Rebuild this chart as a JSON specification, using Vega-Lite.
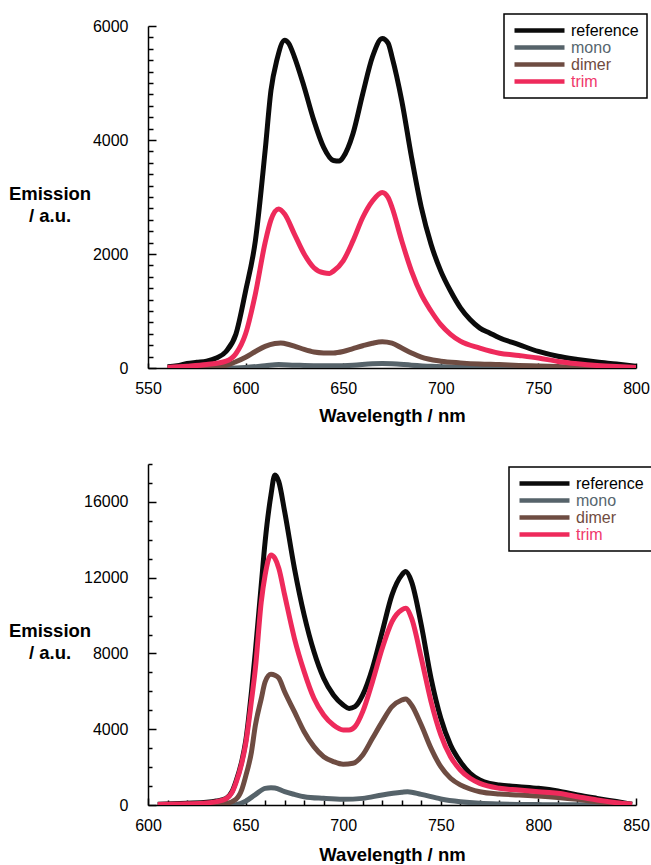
{
  "$schema": "https://vega.github.io/schema/vega-lite/v6.json",
  "background": "white",
  "padding": {"left": 8, "top": 13, "right": 0, "bottom": 0},
  "datasets": {
    "top": [
      {"s":"reference","nm":560,"v":20},{"s":"reference","nm":565,"v":40},{"s":"reference","nm":570,"v":80},{"s":"reference","nm":575,"v":100},{"s":"reference","nm":580,"v":120},{"s":"reference","nm":585,"v":175},{"s":"reference","nm":590,"v":290},{"s":"reference","nm":595,"v":590},{"s":"reference","nm":600,"v":1350},{"s":"reference","nm":605,"v":2230},{"s":"reference","nm":610,"v":3810},{"s":"reference","nm":613,"v":4870},{"s":"reference","nm":616,"v":5400},{"s":"reference","nm":620,"v":5750},{"s":"reference","nm":622,"v":5700},{"s":"reference","nm":625,"v":5460},{"s":"reference","nm":630,"v":4930},{"s":"reference","nm":635,"v":4340},{"s":"reference","nm":640,"v":3870},{"s":"reference","nm":645,"v":3640},{"s":"reference","nm":648,"v":3630},{"s":"reference","nm":650,"v":3700},{"s":"reference","nm":655,"v":4110},{"s":"reference","nm":660,"v":4810},{"s":"reference","nm":665,"v":5460},{"s":"reference","nm":670,"v":5780},{"s":"reference","nm":673,"v":5700},{"s":"reference","nm":675,"v":5460},{"s":"reference","nm":680,"v":4690},{"s":"reference","nm":685,"v":3700},{"s":"reference","nm":690,"v":2820},{"s":"reference","nm":695,"v":2170},{"s":"reference","nm":700,"v":1700},{"s":"reference","nm":705,"v":1350},{"s":"reference","nm":710,"v":1060},{"s":"reference","nm":715,"v":850},{"s":"reference","nm":720,"v":700},{"s":"reference","nm":725,"v":615},{"s":"reference","nm":730,"v":530},{"s":"reference","nm":740,"v":410},{"s":"reference","nm":750,"v":290},{"s":"reference","nm":760,"v":205},{"s":"reference","nm":770,"v":150},{"s":"reference","nm":780,"v":105},{"s":"reference","nm":790,"v":70},{"s":"reference","nm":800,"v":30},
      {"s":"mono","nm":560,"v":0},{"s":"mono","nm":590,"v":0},{"s":"mono","nm":600,"v":10},{"s":"mono","nm":610,"v":40},{"s":"mono","nm":617,"v":60},{"s":"mono","nm":625,"v":50},{"s":"mono","nm":635,"v":40},{"s":"mono","nm":645,"v":40},{"s":"mono","nm":655,"v":50},{"s":"mono","nm":665,"v":75},{"s":"mono","nm":670,"v":80},{"s":"mono","nm":675,"v":75},{"s":"mono","nm":685,"v":50},{"s":"mono","nm":695,"v":30},{"s":"mono","nm":710,"v":15},{"s":"mono","nm":730,"v":8},{"s":"mono","nm":760,"v":3},{"s":"mono","nm":790,"v":0},
      {"s":"dimer","nm":560,"v":0},{"s":"dimer","nm":580,"v":5},{"s":"dimer","nm":585,"v":15},{"s":"dimer","nm":590,"v":45},{"s":"dimer","nm":595,"v":110},{"s":"dimer","nm":600,"v":190},{"s":"dimer","nm":605,"v":290},{"s":"dimer","nm":610,"v":380},{"s":"dimer","nm":615,"v":430},{"s":"dimer","nm":618,"v":440},{"s":"dimer","nm":620,"v":430},{"s":"dimer","nm":625,"v":385},{"s":"dimer","nm":630,"v":325},{"s":"dimer","nm":635,"v":280},{"s":"dimer","nm":640,"v":265},{"s":"dimer","nm":645,"v":265},{"s":"dimer","nm":650,"v":290},{"s":"dimer","nm":655,"v":340},{"s":"dimer","nm":660,"v":390},{"s":"dimer","nm":665,"v":435},{"s":"dimer","nm":670,"v":460},{"s":"dimer","nm":675,"v":435},{"s":"dimer","nm":680,"v":350},{"s":"dimer","nm":685,"v":265},{"s":"dimer","nm":690,"v":190},{"s":"dimer","nm":700,"v":120},{"s":"dimer","nm":710,"v":90},{"s":"dimer","nm":720,"v":70},{"s":"dimer","nm":730,"v":60},{"s":"dimer","nm":740,"v":45},{"s":"dimer","nm":750,"v":35},{"s":"dimer","nm":760,"v":25},{"s":"dimer","nm":770,"v":15},{"s":"dimer","nm":780,"v":10},{"s":"dimer","nm":790,"v":5},
      {"s":"trim","nm":560,"v":10},{"s":"trim","nm":570,"v":30},{"s":"trim","nm":580,"v":60},{"s":"trim","nm":590,"v":120},{"s":"trim","nm":595,"v":250},{"s":"trim","nm":600,"v":600},{"s":"trim","nm":605,"v":1300},{"s":"trim","nm":610,"v":2200},{"s":"trim","nm":613,"v":2600},{"s":"trim","nm":617,"v":2790},{"s":"trim","nm":620,"v":2700},{"s":"trim","nm":625,"v":2350},{"s":"trim","nm":630,"v":2000},{"s":"trim","nm":635,"v":1760},{"s":"trim","nm":640,"v":1670},{"s":"trim","nm":643,"v":1660},{"s":"trim","nm":645,"v":1700},{"s":"trim","nm":650,"v":1880},{"s":"trim","nm":655,"v":2230},{"s":"trim","nm":660,"v":2640},{"s":"trim","nm":665,"v":2930},{"s":"trim","nm":670,"v":3080},{"s":"trim","nm":673,"v":2990},{"s":"trim","nm":675,"v":2820},{"s":"trim","nm":680,"v":2230},{"s":"trim","nm":685,"v":1700},{"s":"trim","nm":690,"v":1290},{"s":"trim","nm":695,"v":1000},{"s":"trim","nm":700,"v":760},{"s":"trim","nm":705,"v":590},{"s":"trim","nm":710,"v":470},{"s":"trim","nm":720,"v":350},{"s":"trim","nm":730,"v":260},{"s":"trim","nm":740,"v":220},{"s":"trim","nm":750,"v":175},{"s":"trim","nm":760,"v":115},{"s":"trim","nm":770,"v":75},{"s":"trim","nm":780,"v":45},{"s":"trim","nm":790,"v":25},{"s":"trim","nm":800,"v":10}
    ],
    "bottom": [
      {"s":"reference","nm":605,"v":35},{"s":"reference","nm":620,"v":90},{"s":"reference","nm":630,"v":140},{"s":"reference","nm":635,"v":210},{"s":"reference","nm":640,"v":350},{"s":"reference","nm":643,"v":700},{"s":"reference","nm":645,"v":1230},{"s":"reference","nm":648,"v":2290},{"s":"reference","nm":650,"v":3340},{"s":"reference","nm":653,"v":5980},{"s":"reference","nm":655,"v":8100},{"s":"reference","nm":658,"v":11600},{"s":"reference","nm":660,"v":13900},{"s":"reference","nm":663,"v":16370},{"s":"reference","nm":665,"v":17420},{"s":"reference","nm":667,"v":17070},{"s":"reference","nm":670,"v":15490},{"s":"reference","nm":675,"v":12500},{"s":"reference","nm":680,"v":10030},{"s":"reference","nm":685,"v":8100},{"s":"reference","nm":690,"v":6690},{"s":"reference","nm":695,"v":5810},{"s":"reference","nm":700,"v":5280},{"s":"reference","nm":703,"v":5100},{"s":"reference","nm":706,"v":5190},{"s":"reference","nm":710,"v":5810},{"s":"reference","nm":715,"v":7220},{"s":"reference","nm":720,"v":9150},{"s":"reference","nm":725,"v":11090},{"s":"reference","nm":730,"v":12140},{"s":"reference","nm":732,"v":12320},{"s":"reference","nm":735,"v":11790},{"s":"reference","nm":740,"v":9500},{"s":"reference","nm":745,"v":6690},{"s":"reference","nm":750,"v":4580},{"s":"reference","nm":755,"v":3170},{"s":"reference","nm":760,"v":2290},{"s":"reference","nm":765,"v":1670},{"s":"reference","nm":770,"v":1320},{"s":"reference","nm":775,"v":1140},{"s":"reference","nm":780,"v":1060},{"s":"reference","nm":790,"v":970},{"s":"reference","nm":800,"v":880},{"s":"reference","nm":810,"v":740},{"s":"reference","nm":820,"v":530},{"s":"reference","nm":830,"v":350},{"s":"reference","nm":840,"v":180},{"s":"reference","nm":848,"v":40},
      {"s":"mono","nm":605,"v":0},{"s":"mono","nm":640,"v":0},{"s":"mono","nm":645,"v":20},{"s":"mono","nm":650,"v":200},{"s":"mono","nm":655,"v":550},{"s":"mono","nm":660,"v":880},{"s":"mono","nm":663,"v":915},{"s":"mono","nm":665,"v":900},{"s":"mono","nm":670,"v":700},{"s":"mono","nm":675,"v":560},{"s":"mono","nm":680,"v":440},{"s":"mono","nm":690,"v":350},{"s":"mono","nm":700,"v":300},{"s":"mono","nm":710,"v":350},{"s":"mono","nm":720,"v":530},{"s":"mono","nm":730,"v":670},{"s":"mono","nm":733,"v":700},{"s":"mono","nm":740,"v":560},{"s":"mono","nm":750,"v":320},{"s":"mono","nm":760,"v":175},{"s":"mono","nm":770,"v":90},{"s":"mono","nm":780,"v":50},{"s":"mono","nm":800,"v":20},{"s":"mono","nm":820,"v":10},{"s":"mono","nm":848,"v":0},
      {"s":"dimer","nm":605,"v":0},{"s":"dimer","nm":630,"v":0},{"s":"dimer","nm":640,"v":80},{"s":"dimer","nm":645,"v":300},{"s":"dimer","nm":648,"v":800},{"s":"dimer","nm":650,"v":1500},{"s":"dimer","nm":653,"v":2800},{"s":"dimer","nm":655,"v":4200},{"s":"dimer","nm":658,"v":5600},{"s":"dimer","nm":660,"v":6500},{"s":"dimer","nm":663,"v":6900},{"s":"dimer","nm":665,"v":6850},{"s":"dimer","nm":667,"v":6700},{"s":"dimer","nm":670,"v":5980},{"s":"dimer","nm":675,"v":4930},{"s":"dimer","nm":680,"v":3870},{"s":"dimer","nm":685,"v":3080},{"s":"dimer","nm":690,"v":2550},{"s":"dimer","nm":695,"v":2290},{"s":"dimer","nm":700,"v":2150},{"s":"dimer","nm":705,"v":2200},{"s":"dimer","nm":710,"v":2640},{"s":"dimer","nm":715,"v":3520},{"s":"dimer","nm":720,"v":4400},{"s":"dimer","nm":725,"v":5190},{"s":"dimer","nm":730,"v":5540},{"s":"dimer","nm":732,"v":5600},{"s":"dimer","nm":735,"v":5280},{"s":"dimer","nm":740,"v":4220},{"s":"dimer","nm":745,"v":2990},{"s":"dimer","nm":750,"v":2020},{"s":"dimer","nm":755,"v":1410},{"s":"dimer","nm":760,"v":1060},{"s":"dimer","nm":765,"v":845},{"s":"dimer","nm":770,"v":700},{"s":"dimer","nm":780,"v":580},{"s":"dimer","nm":790,"v":530},{"s":"dimer","nm":800,"v":475},{"s":"dimer","nm":810,"v":400},{"s":"dimer","nm":820,"v":300},{"s":"dimer","nm":830,"v":175},{"s":"dimer","nm":840,"v":90},{"s":"dimer","nm":848,"v":35},
      {"s":"trim","nm":605,"v":30},{"s":"trim","nm":620,"v":60},{"s":"trim","nm":630,"v":110},{"s":"trim","nm":635,"v":180},{"s":"trim","nm":640,"v":330},{"s":"trim","nm":643,"v":650},{"s":"trim","nm":645,"v":1150},{"s":"trim","nm":648,"v":2200},{"s":"trim","nm":650,"v":3200},{"s":"trim","nm":653,"v":5500},{"s":"trim","nm":655,"v":7200},{"s":"trim","nm":658,"v":10700},{"s":"trim","nm":660,"v":12140},{"s":"trim","nm":663,"v":13200},{"s":"trim","nm":665,"v":13020},{"s":"trim","nm":667,"v":12500},{"s":"trim","nm":670,"v":11090},{"s":"trim","nm":675,"v":8800},{"s":"trim","nm":680,"v":7040},{"s":"trim","nm":685,"v":5630},{"s":"trim","nm":690,"v":4750},{"s":"trim","nm":695,"v":4220},{"s":"trim","nm":700,"v":3960},{"s":"trim","nm":703,"v":3960},{"s":"trim","nm":706,"v":4130},{"s":"trim","nm":710,"v":4930},{"s":"trim","nm":715,"v":6510},{"s":"trim","nm":720,"v":8270},{"s":"trim","nm":725,"v":9680},{"s":"trim","nm":730,"v":10300},{"s":"trim","nm":732,"v":10380},{"s":"trim","nm":735,"v":9860},{"s":"trim","nm":740,"v":7750},{"s":"trim","nm":745,"v":5460},{"s":"trim","nm":750,"v":3700},{"s":"trim","nm":755,"v":2550},{"s":"trim","nm":760,"v":1850},{"s":"trim","nm":765,"v":1410},{"s":"trim","nm":770,"v":1140},{"s":"trim","nm":780,"v":880},{"s":"trim","nm":790,"v":790},{"s":"trim","nm":800,"v":700},{"s":"trim","nm":810,"v":620},{"s":"trim","nm":820,"v":440},{"s":"trim","nm":830,"v":260},{"s":"trim","nm":840,"v":120},{"s":"trim","nm":848,"v":40}
    ]
  },
  "spacing": 31,
  "vconcat": [
    {
      "width": 488,
      "height": 342,
      "data": {"name": "top"},
      "mark": {"type": "line", "strokeWidth": 5, "interpolate": "monotone", "clip": true},
      "encoding": {
        "x": {"field": "nm", "type": "quantitative",
          "scale": {"domain": [550, 800], "nice": false, "zero": false},
          "axis": {"title": "Wavelength / nm", "values": [550, 600, 650, 700, 750, 800], "format": "d", "tickSize": -5, "labelPadding": 17, "titlePadding": 10}},
        "y": {"field": "v", "type": "quantitative",
          "scale": {"domain": [0, 6000], "nice": false},
          "axis": {"title": ["Emission", "/ a.u."],
            "values": [0,200,400,600,800,1000,1200,1400,1600,1800,2000,2200,2400,2600,2800,3000,3200,3400,3600,3800,4000,4200,4400,4600,4800,5000,5200,5400,5600,5800,6000],
            "format": "d",
            "labelExpr": "datum.value % 2000 === 0 ? datum.label : ''",
            "tickSize": {"condition": {"test": "datum.value % 2000 === 0", "value": -8}, "value": -5},
            "labelPadding": 28,
            "titleAngle": 0, "titleAlign": "center", "titleBaseline": "middle", "titleX": -98.5, "titleY": 167, "titleLineHeight": 22}},
        "color": {"field": "s", "type": "nominal",
          "scale": {"domain": ["reference", "mono", "dimer", "trim"], "range": ["#0b0b0b", "#56636a", "#6e4c42", "#ee2a5b"]},
          "legend": {"orient": "none", "legendX": 356, "legendY": -12, "title": null,
            "encode": {"labels": {"update": {"fill": {"signal": "datum.value === 'reference' ? '#000000' : datum.value === 'mono' ? '#56666e' : datum.value === 'dimer' ? '#704c41' : '#f0386b'"}}}}}}
      }
    },
    {
      "width": 488,
      "height": 341,
      "data": {"name": "bottom"},
      "mark": {"type": "line", "strokeWidth": 5, "interpolate": "monotone", "clip": true},
      "encoding": {
        "x": {"field": "nm", "type": "quantitative",
          "scale": {"domain": [600, 850], "nice": false, "zero": false},
          "axis": {"title": "Wavelength / nm",
            "values": [600,610,620,630,640,650,660,670,680,690,700,710,720,730,740,750,760,770,780,790,800,810,820,830,840,850],
            "format": "d",
            "labelExpr": "datum.value % 50 === 0 ? datum.label : ''",
            "tickSize": {"condition": {"test": "datum.value % 50 === 0", "value": -7}, "value": -5},
            "labelPadding": 19, "titlePadding": 10}},
        "y": {"field": "v", "type": "quantitative",
          "scale": {"domain": [0, 18000], "nice": false},
          "axis": {"title": ["Emission", "/ a.u."],
            "values": [0,1000,2000,3000,4000,5000,6000,7000,8000,9000,10000,11000,12000,13000,14000,15000,16000,17000,18000],
            "format": "d",
            "labelExpr": "datum.value % 4000 === 0 ? datum.label : ''",
            "tickSize": {"condition": {"test": "datum.value % 4000 === 0", "value": -8}, "value": -4},
            "labelPadding": 28,
            "titleAngle": 0, "titleAlign": "center", "titleBaseline": "middle", "titleX": -98.5, "titleY": 166, "titleLineHeight": 22}},
        "color": {"field": "s", "type": "nominal",
          "scale": {"domain": ["reference", "mono", "dimer", "trim"], "range": ["#0b0b0b", "#56636a", "#6e4c42", "#ee2a5b"]},
          "legend": {"orient": "none", "legendX": 361, "legendY": 3, "title": null,
            "encode": {"labels": {"update": {"fill": {"signal": "datum.value === 'reference' ? '#000000' : datum.value === 'mono' ? '#56666e' : datum.value === 'dimer' ? '#704c41' : '#f0386b'"}}}}}}
      }
    }
  ],
  "resolve": {"scale": {"x": "independent", "y": "independent", "color": "independent"}, "legend": {"color": "independent"}, "axis": {"x": "independent", "y": "independent"}},
  "config": {
    "font": "Liberation Sans",
    "view": {"stroke": null},
    "axis": {"grid": false, "domainColor": "#000000", "domainWidth": 1.5, "tickColor": "#000000", "tickWidth": 1.5,
      "labelFont": "Liberation Sans", "labelFontSize": 16, "labelColor": "#000000", "labelFlush": false, "labelOverlap": false,
      "titleFont": "Liberation Sans", "titleFontSize": 18.5, "titleFontWeight": "bold", "titleColor": "#000000"},
    "legend": {"symbolType": "stroke", "symbolSize": 2500, "symbolStrokeWidth": 4.5, "labelFont": "Liberation Sans", "labelFontSize": 16,
      "labelOffset": 4, "clipHeight": 17, "rowPadding": 0, "padding": 8, "strokeColor": "#000000", "strokeWidth": 1.5, "fillColor": "#ffffff", "labelLimit": 200}
  }
}
